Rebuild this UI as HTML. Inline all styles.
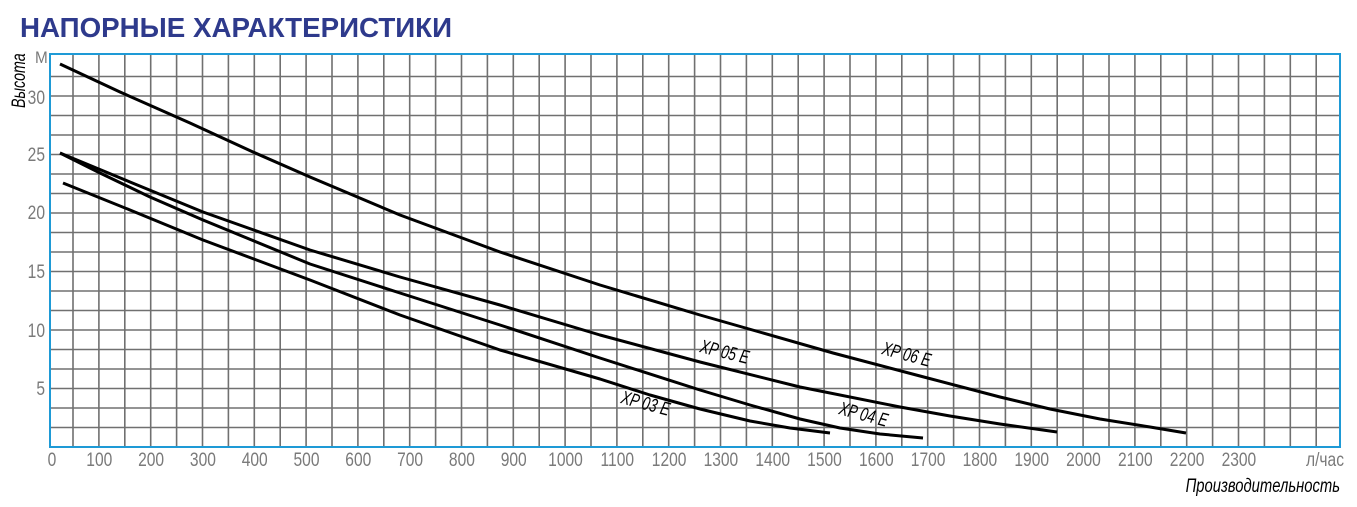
<!DOCTYPE html>
<html><head><meta charset="utf-8"><style>
html,body{margin:0;padding:0;background:#fff;}
svg{display:block;font-family:"Liberation Sans",sans-serif;}
</style></head><body>
<svg width="1357" height="507" viewBox="0 0 1357 507" xmlns="http://www.w3.org/2000/svg">
<text x="0" y="0" font-size="28" font-weight="bold" fill="#2e3a8c" transform="translate(20 37) scale(0.99 1)">НАПОРНЫЕ ХАРАКТЕРИСТИКИ</text>
<path stroke="#707070" stroke-width="1.6" fill="none" d="M73,54V447M98.9,54V447M124.8,54V447M150.7,54V447M176.6,54V447M202.5,54V447M228.4,54V447M254.3,54V447M280.2,54V447M306.1,54V447M332,54V447M357.9,54V447M383.8,54V447M409.7,54V447M435.6,54V447M461.5,54V447M487.4,54V447M513.3,54V447M539.2,54V447M565.1,54V447M591,54V447M616.9,54V447M642.8,54V447M668.7,54V447M694.6,54V447M720.5,54V447M746.4,54V447M772.3,54V447M798.2,54V447M824.1,54V447M850,54V447M875.9,54V447M901.8,54V447M927.7,54V447M953.6,54V447M979.5,54V447M1005.4,54V447M1031.3,54V447M1057.2,54V447M1083.1,54V447M1109,54V447M1134.9,54V447M1160.8,54V447M1186.7,54V447M1212.6,54V447M1238.5,54V447M1264.4,54V447M1290.3,54V447M1316.2,54V447
M50,427.5H1340M50,408H1340M50,388.5H1340M50,369H1340M50,349.5H1340M50,330H1340M50,310.5H1340M50,291H1340M50,271.5H1340M50,252H1340M50,232.5H1340M50,213H1340M50,193.5H1340M50,174H1340M50,154.5H1340M50,135H1340M50,115.5H1340M50,96H1340M50,76.5H1340"/>
<rect x="50" y="54" width="1290" height="393" fill="none" stroke="#1e9ad6" stroke-width="2"/>
<g fill="none" stroke="#000" stroke-width="3" stroke-linejoin="round">
<polyline points="60,64 120,92 190,123 253,152 310,177 400,215 500,252 600,285 700,315 833,353 920,376 1000,397 1050,409 1100,419 1150,427 1186,433"/>
<polyline points="60,153 130,182 203,212 310,250 400,277 500,305 600,335 700,362 800,387 900,407 950,416 1000,424 1057,432"/>
<polyline points="60,153 100,173 150,197 203,220 310,264 400,293 500,325 600,358 700,390 750,405 800,419 840,428 880,434 923,438"/>
<polyline points="63,183 130,210 203,240 310,280 400,315 500,350 600,379 650,395 700,409 750,421 790,428 830,433"/>
</g>
<g font-size="19" fill="#000" font-style="italic">
<text transform="translate(699 352) rotate(14) scale(0.72 1)">XP 05 E</text>
<text transform="translate(881 354) rotate(15) scale(0.72 1)">XP 06 E</text>
<text transform="translate(620 403) rotate(15) scale(0.72 1)">XP 03 E</text>
<text transform="translate(838 414) rotate(15) scale(0.72 1)">XP 04 E</text>
</g>
<g font-size="19" fill="#7a7a7a" text-anchor="middle">
<text transform="translate(52 466) scale(0.82 1)">0</text>
<text transform="translate(99.3 466) scale(0.82 1)">100</text>
<text transform="translate(151.1 466) scale(0.82 1)">200</text>
<text transform="translate(202.9 466) scale(0.82 1)">300</text>
<text transform="translate(254.7 466) scale(0.82 1)">400</text>
<text transform="translate(306.5 466) scale(0.82 1)">500</text>
<text transform="translate(358.3 466) scale(0.82 1)">600</text>
<text transform="translate(410.1 466) scale(0.82 1)">700</text>
<text transform="translate(461.9 466) scale(0.82 1)">800</text>
<text transform="translate(513.7 466) scale(0.82 1)">900</text>
<text transform="translate(565.5 466) scale(0.82 1)">1000</text>
<text transform="translate(617.3 466) scale(0.82 1)">1100</text>
<text transform="translate(669.1 466) scale(0.82 1)">1200</text>
<text transform="translate(720.9 466) scale(0.82 1)">1300</text>
<text transform="translate(772.7 466) scale(0.82 1)">1400</text>
<text transform="translate(824.5 466) scale(0.82 1)">1500</text>
<text transform="translate(876.3 466) scale(0.82 1)">1600</text>
<text transform="translate(928.1 466) scale(0.82 1)">1700</text>
<text transform="translate(979.9 466) scale(0.82 1)">1800</text>
<text transform="translate(1031.7 466) scale(0.82 1)">1900</text>
<text transform="translate(1083.5 466) scale(0.82 1)">2000</text>
<text transform="translate(1135.3 466) scale(0.82 1)">2100</text>
<text transform="translate(1187.1 466) scale(0.82 1)">2200</text>
<text transform="translate(1238.9 466) scale(0.82 1)">2300</text>
</g>
<g font-size="19" fill="#7a7a7a" text-anchor="end">
<text transform="translate(45 104) scale(0.82 1)">30</text>
<text transform="translate(45 161) scale(0.82 1)">25</text>
<text transform="translate(45 219) scale(0.82 1)">20</text>
<text transform="translate(45 278) scale(0.82 1)">15</text>
<text transform="translate(45 337) scale(0.82 1)">10</text>
<text transform="translate(45 395) scale(0.82 1)">5</text>
<text transform="translate(1344 466) scale(0.82 1)">л/час</text>
</g>
<text transform="translate(1340 492) scale(0.78 1)" text-anchor="end" font-size="19" fill="#000" font-style="italic">Производительность</text>
<text transform="translate(35 63) scale(0.9 1)" font-size="17" fill="#7a7a7a">М</text>
<text transform="translate(25 108) rotate(-90) scale(0.75 1)" font-size="19" font-style="italic" fill="#000">Высота</text>
</svg>
</body></html>
